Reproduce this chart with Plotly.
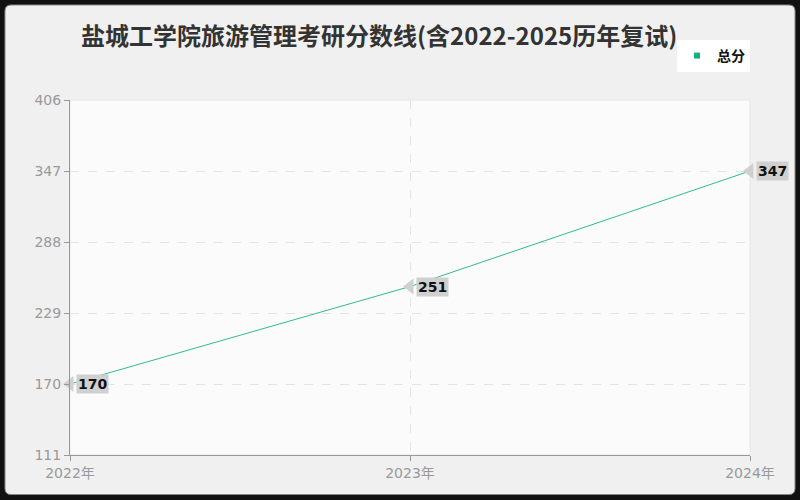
import plotly.graph_objects as go

# data
years = ["2022年", "2023年", "2024年"]
total_scores = [170, 251, 347]
y_ticks = [111, 170, 229, 288, 347, 406]

title_text = "盐城工学院旅游管理考研分数线(含2022-2025历年复试)"
line_color = "#2dbd8c"
cjk_font = "Noto Sans CJK SC"
num_font = "DejaVu Sans, Noto Sans CJK SC"

fig = go.Figure()

fig.add_trace(go.Scatter(
    x=[0, 1, 2], y=total_scores, mode="lines", name="总分",
    line=dict(color=line_color, width=1),
    hoverinfo="skip", showlegend=False,
))
# legend entry uses a small square like the reference
fig.add_trace(go.Scatter(
    x=[None], y=[None], mode="markers", name="<b>总分</b>",
    marker=dict(symbol="square", size=6, color="#12b07f"),
))

# grey pointer tags at each point
fig.add_trace(go.Scatter(
    x=[0, 1, 2], y=total_scores, mode="markers", showlegend=False,
    marker=dict(symbol="triangle-left", size=14, color="#d0d0d0"),
    hoverinfo="skip", cliponaxis=False,
))
for i, v in enumerate(total_scores):
    fig.add_annotation(
        x=i, y=v, text="<b>" + str(v) + "</b>", showarrow=False,
        xanchor="left", yanchor="middle", xshift=6,
        bgcolor="#d0d0d0", borderpad=1,
        font=dict(family=num_font, size=14, color="#111"),
    )

# page frame: dark edge with rounded light panel
def frame_path(x0, x1, y0, y1, rx, ry):
    return (f"M {x0+rx},{y1} L {x1-rx},{y1} Q {x1},{y1} {x1},{y1-ry} "
            f"L {x1},{y0+ry} Q {x1},{y0} {x1-rx},{y0} L {x0+rx},{y0} "
            f"Q {x0},{y0} {x0},{y0+ry} L {x0},{y1-ry} Q {x0},{y1} {x0+rx},{y1} Z")

fig.add_shape(
    type="path", xref="paper", yref="paper", layer="below",
    path=frame_path(-0.0956, 1.0662, -0.1113, 1.2676, 0.009, 0.017),
    fillcolor="#f0f0f0", line=dict(color="#888", width=1),
)
fig.add_shape(
    type="rect", xref="paper", yref="paper", layer="below",
    x0=0, x1=1, y0=0, y1=1,
    fillcolor="#fbfbfb", line=dict(color="#e6e6e6", width=1),
)

fig.update_layout(
    width=800, height=500,
    margin=dict(l=70, r=50, t=100, b=45),
    paper_bgcolor="#111111",
    plot_bgcolor="rgba(0,0,0,0)",
    title=dict(text="<b>" + title_text + "</b>", x=0.474, y=0.926,
               xanchor="center", yanchor="middle",
               font=dict(family=cjk_font, size=24, color="#333")),
    font=dict(family=cjk_font),
    showlegend=True,
    legend=dict(x=1.0, y=1.124, xanchor="right", yanchor="middle",
                bgcolor="#ffffff", borderwidth=0,
                font=dict(family=cjk_font, size=14, color="#111"),
                itemwidth=30),
    xaxis=dict(
        tickmode="array", tickvals=[0, 1, 2], ticktext=years,
        range=[0, 2], showgrid=True, griddash="dash", gridcolor="#e4e4e4",
        showline=True, linecolor="#999", ticks="outside", tickcolor="#999", ticklen=5,
        tickfont=dict(family=num_font, size=14, color="#999"), zeroline=False,
    ),
    yaxis=dict(
        tickmode="array", tickvals=y_ticks, range=[111, 406],
        showgrid=True, griddash="dash", gridcolor="#e4e4e4",
        showline=True, linecolor="#999", ticks="outside", tickcolor="#999", ticklen=5,
        tickfont=dict(family=num_font, size=14, color="#999"), zeroline=False,
    ),
)

fig.write_html("out.html", config={"displayModeBar": False},
               post_script="document.body.style.margin='0';")
